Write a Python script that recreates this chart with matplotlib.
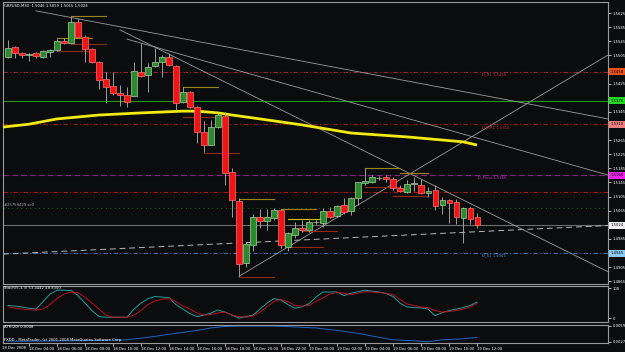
import matplotlib
matplotlib.use('Agg')
import matplotlib.pyplot as plt
import matplotlib.transforms as mtransforms
from matplotlib.patches import Rectangle
import numpy as np

# GBPUSD M30 bars, 18 Dec 02:30 .. 19 Dec 12:00
opens = [1.5500, 1.5529, 1.5512, 1.5506, 1.5512, 1.5500, 1.5514, 1.5520, 1.5546, 1.5540,
         1.5599, 1.5557, 1.5523, 1.5486, 1.5438, 1.5418, 1.5398, 1.5392, 1.5390, 1.5458,
         1.5449, 1.5475, 1.5486, 1.5500, 1.5475, 1.5373, 1.5401, 1.5358, 1.5288, 1.5251,
         1.5302, 1.5333, 1.5174, 1.5092, 1.4916, 1.4967, 1.5046, 1.5035, 1.5044, 1.5066,
         1.4961, 1.4995, 1.5015, 1.5010, 1.5032, 1.5030, 1.5063, 1.5049, 1.5081, 1.5063,
         1.5100, 1.5143, 1.5146, 1.5157, 1.5160, 1.5154, 1.5129, 1.5117, 1.5140, 1.5137,
         1.5115, 1.5123, 1.5081, 1.5095, 1.5089, 1.5044, 1.5072, 1.5046]
highs = [1.5548, 1.5531, 1.5514, 1.5512, 1.5514, 1.5520, 1.5523, 1.5551, 1.5554, 1.5614,
         1.5611, 1.5563, 1.5526, 1.5489, 1.5458, 1.5458, 1.5421, 1.5415, 1.5486, 1.5540,
         1.5483, 1.5526, 1.5506, 1.5512, 1.5478, 1.5415, 1.5404, 1.5361, 1.5320, 1.5322,
         1.5341, 1.5345, 1.5185, 1.5100, 1.4975, 1.5055, 1.5069, 1.5069, 1.5072, 1.5069,
         1.5004, 1.5032, 1.5038, 1.5038, 1.5038, 1.5072, 1.5075, 1.5081, 1.5100, 1.5103,
         1.5146, 1.5185, 1.5166, 1.5163, 1.5166, 1.5160, 1.5137, 1.5151, 1.5160, 1.5154,
         1.5132, 1.5137, 1.5103, 1.5098, 1.5098, 1.5075, 1.5075, 1.5059]
lows = [1.5497, 1.5497, 1.5497, 1.5489, 1.5497, 1.5497, 1.5500, 1.5517, 1.5537, 1.5540,
        1.5557, 1.5486, 1.5483, 1.5409, 1.5370, 1.5392, 1.5361, 1.5358, 1.5390, 1.5443,
        1.5401, 1.5472, 1.5443, 1.5475, 1.5350, 1.5370, 1.5355, 1.5256, 1.5231, 1.5251,
        1.5300, 1.5137, 1.5046, 1.4879, 1.4905, 1.4950, 1.5015, 1.5010, 1.5038, 1.4960,
        1.4950, 1.4987, 1.5004, 1.5004, 1.5027, 1.5018, 1.5044, 1.5046, 1.5055, 1.5052,
        1.5081, 1.5137, 1.5143, 1.5151, 1.5146, 1.5123, 1.5117, 1.5115, 1.5120, 1.5112,
        1.5103, 1.5066, 1.5055, 1.5030, 1.5027, 1.4973, 1.5027, 1.5015]
closes = [1.5526, 1.5512, 1.5506, 1.5509, 1.5503, 1.5517, 1.5520, 1.5546, 1.5540, 1.5599,
          1.5557, 1.5523, 1.5486, 1.5435, 1.5415, 1.5398, 1.5392, 1.5373, 1.5461, 1.5446,
          1.5472, 1.5486, 1.5500, 1.5478, 1.5370, 1.5401, 1.5358, 1.5288, 1.5251, 1.5302,
          1.5336, 1.5171, 1.5095, 1.4913, 1.4970, 1.5046, 1.5035, 1.5046, 1.5066, 1.4967,
          1.5001, 1.5015, 1.5010, 1.5032, 1.5032, 1.5063, 1.5046, 1.5078, 1.5061, 1.5100,
          1.5146, 1.5149, 1.5160, 1.5158, 1.5154, 1.5129, 1.5120, 1.5140, 1.5143, 1.5115,
          1.5120, 1.5078, 1.5095, 1.5086, 1.5046, 1.5072, 1.5041, 1.5024]

# yellow moving average, read at some bars
ma_bars = [-0.7, 3, 7, 13, 19, 25, 27, 30, 32, 36, 42, 49, 57, 65, 67]
ma_vals = [1.5302, 1.5310, 1.5325, 1.5336, 1.5342, 1.5347, 1.5347, 1.5342, 1.5336,
           1.5325, 1.5308, 1.5285, 1.5274, 1.5260, 1.5251]

# stochastic (main / signal)
stoch_main = [42, 40, 37, 33, 30, 55, 80, 93, 93, 92, 75, 50, 25, 5, 3, 3, 3, 3, 30, 50,
              65, 72, 70, 68, 45, 30, 15, 5, 10, 17, 27, 20, 10, 0, 5, 10, 30, 50, 65, 60,
              45, 33, 38, 48, 70, 87, 87, 87, 75, 83, 88, 93, 90, 87, 82, 72, 50, 37, 35, 34,
              30, 8, 18, 25, 30, 35, 42, 53.4]
stoch_signal = [37, 33, 30, 28, 27, 30, 45, 65, 80, 87, 85, 70, 50, 30, 10, 3, 3, 3, 10, 25,
                45, 57, 63, 65, 55, 40, 30, 17, 10, 12, 17, 20, 10, 5, 3, 7, 20, 38, 55, 62,
                55, 42, 40, 42, 55, 68, 80, 86, 83, 78, 83, 88, 87, 85, 83, 78, 63, 47, 42, 37,
                35, 25, 20, 22, 25, 30, 37, 48.8]

# ATR(20)
atr_bars = [0, 10, 17, 20, 24, 27, 29, 31, 33, 38, 41, 44, 47, 50, 53, 55, 58, 60, 62, 65, 67]
atr_vals = [0.0028, 0.0029, 0.0031, 0.0036, 0.0044, 0.0050, 0.0055, 0.0058, 0.0059, 0.0059,
            0.0057, 0.0055, 0.0050, 0.0044, 0.0036, 0.0031, 0.0029, 0.0027, 0.0031, 0.0033,
            0.0036]

# trend lines (bar, price) -> (bar, price), running to the right edge
trend_lines = [((4.0, 1.5631), (85.71, 1.5325)),
               ((16.0, 1.5577), (85.71, 1.4892)),
               ((17.0, 1.5551), (85.71, 1.5166)),
               ((33.0, 1.4879), (85.71, 1.5506))]
long_ma = ((-0.71, 1.4942), (85.71, 1.5023))

# horizontal levels
lvl_prices = [1.5458, 1.5376, 1.5310, 1.5166, 1.5118, 1.5073, 1.5024, 1.4945]
lvl_colors = ['#9a1f3a', '#1f9a1f', '#8a1c1c', '#8e1f8e', '#b01414', '#1f5a1f', '#6e6e6e', '#3a6e9e']
lvl_styles = [(0, (4, 2, 1, 2)), '-', (0, (4, 2, 1, 2)), (0, (5, 3)), (0, (4, 2, 1, 2)),
              (0, (1, 3)), '-', (0, (4, 2, 1, 2))]

# short high/low segments
seg_start = [9, 7, 9, 7, 25, 25, 28, 33, 33, 39, 40, 40, 42, 51, 51, 56, 55]
seg_end = [14, 12, 14, 12, 30, 30, 33, 38, 38, 44, 45, 45, 47, 56, 56, 60, 60]
seg_price = [1.5616, 1.5554, 1.5537, 1.5517, 1.5415, 1.5330, 1.5229, 1.5098, 1.4877,
             1.5069, 1.5041, 1.4962, 1.5007, 1.5186, 1.5132, 1.5172, 1.5107]
seg_kind = ['h', 'h', 'l', 'l', 'h', 'l', 'l', 'h', 'l', 'h', 'y', 'l', 'l', 'h', 'l', 'h', 'l']

price_ticks = [1.5625 - 0.0040 * k for k in range(20)]
box_prices = [1.5458, 1.5376, 1.5310, 1.5166, 1.5024, 1.4945]
box_colors = ['#e8501a', '#22d822', '#f08080', '#ee22ee', '#f0f0f0', '#8cc8f0']

time_bars = [3, 7, 11, 15, 19, 23, 27, 31, 35, 39, 43, 47, 51, 55, 59, 63, 67]
time_labels = ['18 Dec 04:00', '18 Dec 06:00', '18 Dec 08:00', '18 Dec 10:00', '18 Dec 12:00',
               '18 Dec 14:00', '18 Dec 16:00', '18 Dec 18:00', '18 Dec 20:00', '18 Dec 22:00',
               '19 Dec 00:00', '19 Dec 02:00', '19 Dec 04:00', '19 Dec 06:00', '19 Dec 08:00',
               '19 Dec 10:00', '19 Dec 12:00']

BG = '#0a0c0e'
FRAME = '#9a9a9a'
FS = 2.7

fig = plt.figure(figsize=(6.25, 3.52), dpi=100, facecolor=BG)
W, H = 625.0, 352.0
R = 608.0
ax = fig.add_axes([3 / W, 1 - 284 / H, (R - 3) / W, 282 / H], facecolor=BG)
ax2 = fig.add_axes([3 / W, 1 - 322 / H, (R - 3) / W, 36 / H], facecolor=BG)
ax3 = fig.add_axes([3 / W, 1 - 343 / H, (R - 3) / W, 18 / H], facecolor=BG)

xlim = (-0.714, 85.71)
for a in (ax, ax2, ax3):
    a.set_xlim(*xlim)
    for s in a.spines.values():
        s.set_color(FRAME)
        s.set_linewidth(0.8)
    a.tick_params(colors='white', labelsize=FS, length=2, width=0.5, pad=1.5)
    a.yaxis.tick_right()
    a.set_xticks([])

ax.set_ylim(1.48573, 1.56562)

for p, c, ls in zip(lvl_prices, lvl_colors, lvl_styles):
    ax.axhline(p, color=c, ls=ls, lw=0.8, zorder=1)

ax.plot([long_ma[0][0], long_ma[1][0]], [long_ma[0][1], long_ma[1][1]],
        color='#b8b8b8', lw=0.7, ls=(0, (6, 4)), zorder=2)

for (x0, y0), (x1, y1) in trend_lines:
    ax.plot([x0, x1], [y0, y1], color='#9c9c9c', lw=0.6, zorder=2)

seg_cols = {'h': '#9a8614', 'l': '#8e2a12', 'y': '#c8c214'}
for s, e, p, k in zip(seg_start, seg_end, seg_price, seg_kind):
    ax.plot([s, e], [p, p], color=seg_cols[k], lw=0.8, zorder=2)

ax.plot(ma_bars, ma_vals, color='#f2ea10', lw=2.0, zorder=3, solid_capstyle='butt')

# candles
idx = np.arange(len(opens))
o = np.array(opens); c = np.array(closes)
ax.vlines(idx, lows, highs, color='#b4b4b4', lw=0.6, zorder=4)
up = c >= o
body = np.where(np.abs(c - o) < 0.00004, 0.00004, c - o)
ax.bar(idx[up], body[up], bottom=o[up], width=0.72, color='#2b8a2b',
       edgecolor='#a8d0a8', linewidth=0.5, zorder=5)
ax.bar(idx[~up], body[~up], bottom=o[~up], width=0.72, color='#f21414',
       edgecolor='#ff7070', linewidth=0.5, zorder=5)

# price axis: hide tick labels that sit under a coloured box
shown = [t for t in price_ticks if min(abs(t - b) for b in box_prices) > 0.0013]
ax.set_yticks(price_ticks)
ax.set_yticklabels(['%.4f' % t if t in shown else '' for t in price_ticks])

trans = mtransforms.blended_transform_factory(fig.transFigure, ax.transData)
for p, bc in zip(box_prices, box_colors):
    ax.add_patch(Rectangle(((R + 1) / W, p - 0.0010), (W - R - 1) / W, 0.0020, transform=trans,
                           facecolor=bc, edgecolor='none', clip_on=False, zorder=10))
    ax.text((R + 3) / W, p, '%.4f' % p, transform=trans, fontsize=FS, color='black',
            va='center', ha='left', zorder=11, clip_on=False)

# level labels
ax.text(67.7, 1.5450, 'D_R1 1.5458', color='#c83030', fontsize=FS, va='center')
ax.text(67.7, 1.5302, 'D_MR1 1.5310', color='#c83030', fontsize=FS, va='center')
ax.text(67.2, 1.5158, 'D_Pivot 1.5166', color='#c030c0', fontsize=FS, va='center')
ax.text(67.7, 1.4938, 'D_S1 1.4945', color='#4a8ac8', fontsize=FS, va='center')
ax.text(-0.55, 1.5081, '#25754429 sell', color='#b0b0b0', fontsize=FS, va='center')

fig.text(4 / W, 1 - 6 / H, 'GBPUSD,M30  1.5046 1.5059 1.5015 1.5024', color='white',
         fontsize=FS, va='center')

# stochastic
ax2.set_ylim(-13, 107)
ax2.plot(idx, stoch_main, color='#20a0a0', lw=0.7)
ax2.plot(idx, stoch_signal, color='#c01020', lw=0.7)
ax2.set_yticks([100, 0])
ax2.set_yticklabels(['100', '0'])
ax2.text(-0.5, 100, 'Stoch(5,3,3) 53.4442 48.8350', color='white', fontsize=FS, va='center')

# ATR
ax3.set_ylim(0.00245, 0.0061)
ax3.plot(atr_bars, atr_vals, color='#1e64c8', lw=0.7)
ax3.set_yticks([0.0059, 0.0027])
ax3.set_yticklabels(['0.0059', '0.0027'])
ax3.text(-0.5, 0.0056, 'ATR(20) 0.0048', color='white', fontsize=FS, va='center')
ax3.text(-0.5, 0.0030, 'FXDD - MetaTrader, (c) 2001-2008 MetaQuotes Software Corp.',
         color='white', fontsize=FS, va='center')

ax3.set_xticks(time_bars)
ax3.set_xticklabels(time_labels)
for lbl in ax3.get_xticklabels():
    lbl.set_ha('left')
ax3.tick_params(axis='x', length=2, pad=1)
ax3.text(-0.85, -0.28, '18 Dec 2008',
         transform=mtransforms.blended_transform_factory(ax3.transData, ax3.transAxes),
         color='white', fontsize=FS, va='center', ha='left')

fig.savefig('out.png', dpi=100, facecolor=BG)
